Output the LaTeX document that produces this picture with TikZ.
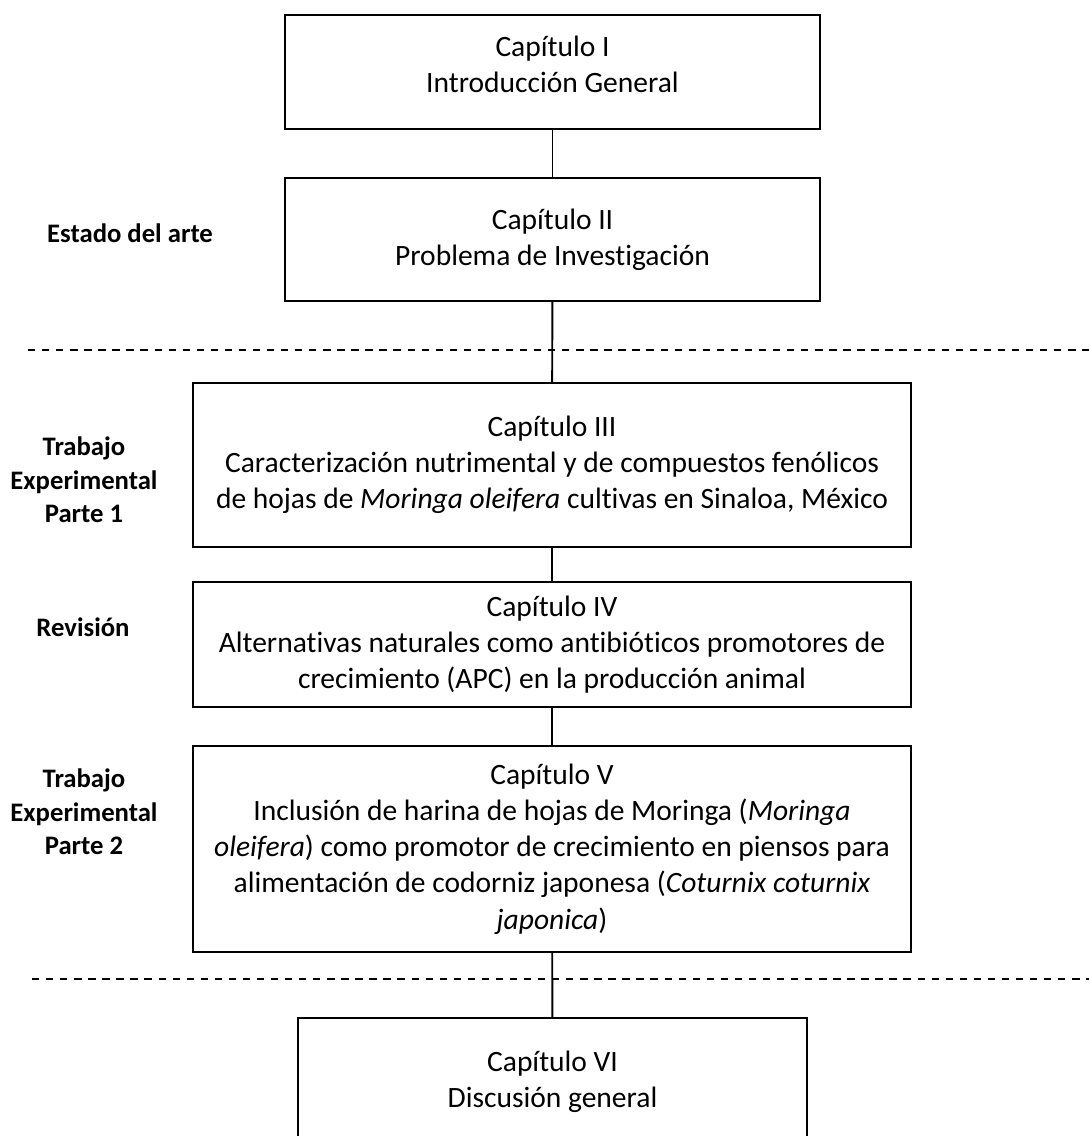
\documentclass[tikz,border=0pt]{standalone}
\usepackage{fontspec}
\setmainfont[Ligatures=NoCommon]{Carlito}

\begin{document}
\begin{tikzpicture}[x=0.02cm,y=-0.02cm,
    capbox/.style={draw,line width=1.1pt,align=center,inner sep=0pt,
      font=\fontsize{16.8}{20.6}\selectfont},
    parte/.style={align=center,font=\bfseries\fontsize{15.2}{19}\selectfont},
    sep/.style={line width=1.1pt,dash pattern=on 4.2pt off 3.8pt},
    link/.style={line width=1.1pt}]
  \useasboundingbox (0,0) rectangle (1089,1136);
  \coordinate (sepA) at (28,350);
  \coordinate (sepB) at (32,979);
  \draw [sep] (sepA) -- (sepA -| 1089,0);
  \draw [sep] (sepB) -- (sepB -| 1089,0);
  \node [capbox, minimum width=10.7cm, minimum height=2.28cm] (cap1) at (552.5,72) {Capítulo I\\ Introducción General\\[-12pt]\mbox{}};
  \node [capbox, minimum width=10.7cm, minimum height=2.46cm] (cap2) at (552.5,239.5) {Capítulo II\\ Problema de Investigación};
  \node [capbox, minimum width=14.36cm, minimum height=3.28cm] (cap3) at (552,465) {Capítulo III\\ Caracterización nutrimental y de compuestos fenólicos\\ de hojas de \textit{Moringa oleifera} cultivas en Sinaloa, México};
  \node [capbox, minimum width=14.36cm, minimum height=2.5cm] (cap4) at (552,644.5) {Capítulo IV\\ Alternativas naturales como antibióticos promotores de\\ crecimiento (APC) en la producción animal};
  \node [capbox, minimum width=14.36cm, minimum height=4.12cm] (cap5) at (552,849) {Capítulo V\\ Inclusión de harina de hojas de Moringa (\textit{Moringa}\\ \textit{oleifera}) como promotor de crecimiento en piensos para\\ alimentación de codorniz japonesa (\textit{Coturnix coturnix}\\ \textit{japonica})};
  \node [capbox, minimum width=10.18cm, minimum height=2.54cm] (cap6) at (552.5,1081.5) {Capítulo VI\\ Discusión general};
  \draw [link] (cap1) -- (cap2);
  \draw [link] (cap2) -- (cap3);
  \draw [link] (cap3) -- (cap4);
  \draw [link] (cap4) -- (cap5);
  \draw [link] (cap5) -- (cap6);
  \node [parte] (arte) at (130,233) {Estado del arte};
  \node [parte] (exp1) at (84,480) {Trabajo\\ Experimental\\ Parte 1};
  \node [parte] (rev) at (83,627) {Revisión};
  \node [parte] (exp2) at (84,812) {Trabajo\\ Experimental\\ Parte 2};
\end{tikzpicture}
\end{document}
